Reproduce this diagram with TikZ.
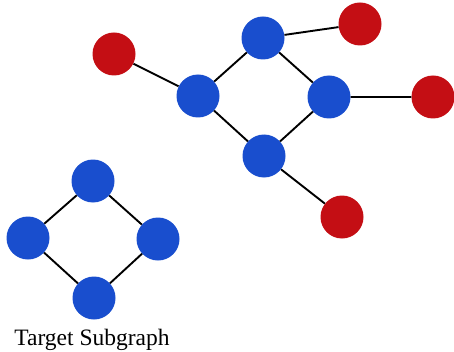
\documentclass[tikz,border=0pt]{standalone}
\usepackage{fontspec}
\setmainfont{Liberation Serif}
\usetikzlibrary{positioning}

\definecolor{nodeblue}{RGB}{25,78,206}
\definecolor{nodered}{RGB}{196,14,20}

\tikzset{
    vtx/.style={circle, minimum size=43pt, inner sep=0pt},
    bluevtx/.style={vtx, fill=nodeblue},
    redvtx/.style={vtx, fill=nodered},
    link/.style={line width=1.9pt, black},
}

\begin{document}
\begin{tikzpicture}[on grid, node distance=60pt]
        \useasboundingbox (0,0) rectangle (454pt,351pt);
        % host graph
        \node [bluevtx] (a) at (198pt,255pt) {};
        \node [bluevtx, above right=58pt and 65pt of a] (b) {};
        \node [bluevtx, below right=59pt and 66pt of b] (c) {};
        \node [bluevtx, below right=60pt and 66pt of a] (d) {};
        \node [redvtx, above left=42pt and 84pt of a] (r1) {};
        \node [redvtx, above right=14pt and 97pt of b] (r2) {};
        \node [redvtx, right=104pt of c] (r3) {};
        \node [redvtx, below right=61pt and 78pt of d] (r4) {};
        % target subgraph
        \node [bluevtx] (t1) at (93pt,170pt) {};
        \node [bluevtx, below left=57pt and 65pt of t1] (t2) {};
        \node [bluevtx, below right=58pt and 65pt of t1] (t3) {};
        \node [bluevtx, below right=60pt and 66pt of t2] (t4) {};
        \node [anchor=base, inner sep=0pt, font=\fontsize{23.5}{28}\selectfont] (label) at (92pt,6pt) {Target Subgraph};
        \draw [link] (r1) -- (a) -- (b) -- (r2);
        \draw [link] (b) -- (c) -- (r3);
        \draw [link] (a) -- (d) -- (c);
        \draw [link] (d) -- (r4);
        \draw [link] (t1) -- (t2) -- (t4) -- (t3) -- (t1);
\end{tikzpicture}
\end{document}
